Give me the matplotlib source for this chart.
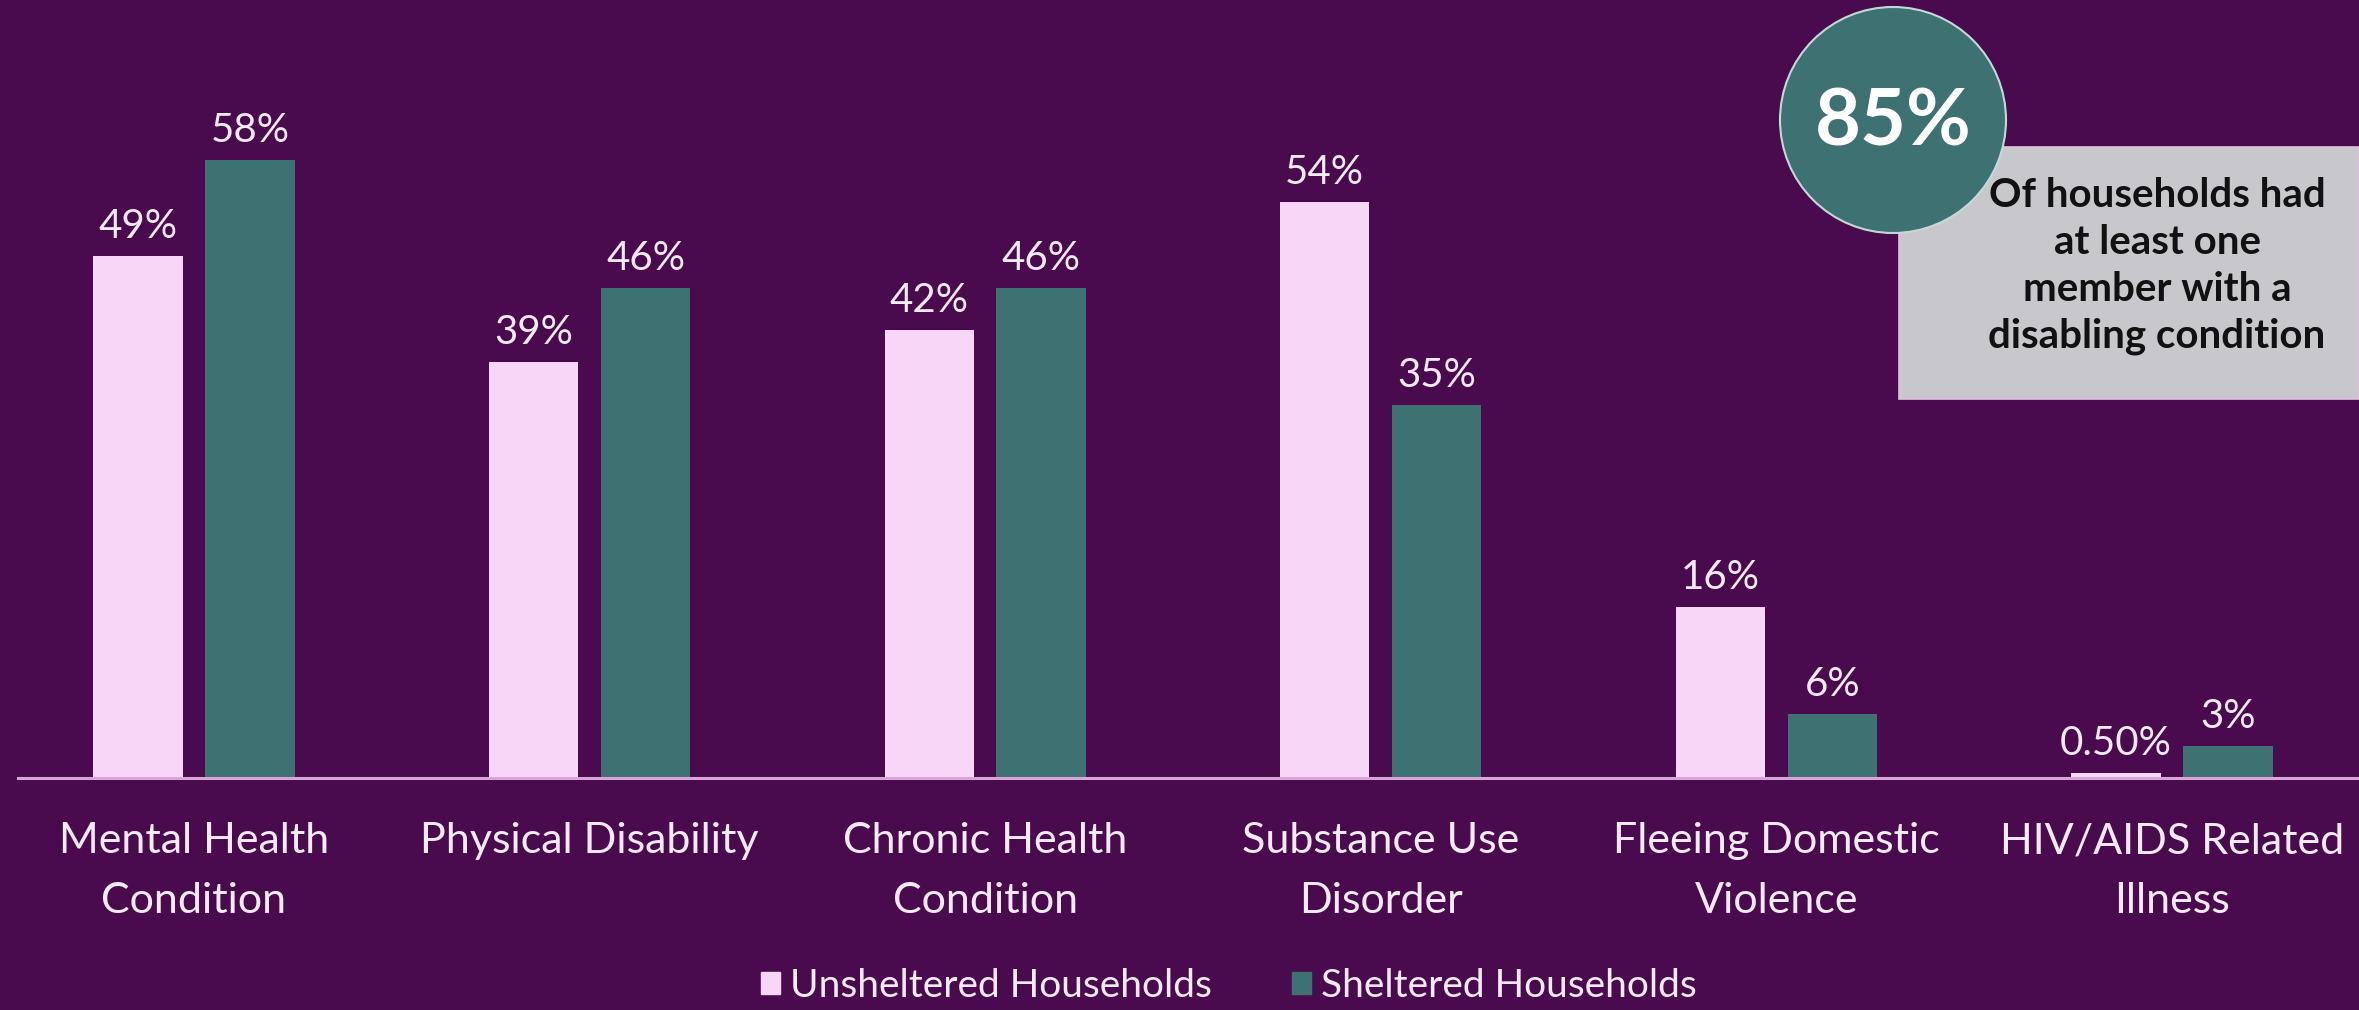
import matplotlib
matplotlib.use("Agg")
import matplotlib.pyplot as plt
import numpy as np
from matplotlib.patches import Rectangle, Circle, Patch

# Disabling conditions among households, by shelter status (%)
categories = ["Mental Health\nCondition", "Physical Disability", "Chronic Health\nCondition",
              "Substance Use\nDisorder", "Fleeing Domestic\nViolence", "HIV/AIDS Related\nIllness"]
unsheltered = [49, 39, 42, 54, 16, 0.5]
sheltered = [58, 46, 46, 35, 6, 3]
series_names = ["Unsheltered Households", "Sheltered Households"]
callout_value = "85%"
callout_text = "Of households had\nat least one\nmember with a\ndisabling condition"

BG = "#4a0a4e"
PINK = "#f7d6f7"
TEAL = "#3e7172"
AXIS_LINE = "#d6a6d8"
TEXT = "#f6eaf6"

plt.rcParams["font.family"] = ["Lato", "DejaVu Sans"]

W, H = 2359, 1010
fig = plt.figure(figsize=(W / 100, H / 100), dpi=100, facecolor=BG)
ax = fig.add_axes([18 / W, 232 / H, 1 - 18 / W, 1 - 232 / H])
ax.set_facecolor(BG)

x = np.arange(len(categories))
bw = 0.226
off = 0.1415
b1 = ax.bar(x - off, unsheltered, bw, color=PINK, label=series_names[0], zorder=2)
b2 = ax.bar(x + off, sheltered, bw, color=TEAL, label=series_names[1], zorder=2)


def fmt(v):
    return f"{v:.2f}%" if v < 1 else f"{v:.0f}%"


for bars, vals in ((b1, unsheltered), (b2, sheltered)):
    ax.bar_label(bars, labels=[fmt(v) for v in vals], padding=8,
                 fontsize=29, color=TEXT)

ax.set_xlim(-0.445, 5.473)
ax.set_ylim(0, 73.0)
ax.set_yticks([])
ax.set_xticks(x)
ax.set_xticklabels(categories, fontsize=31, color=TEXT, linespacing=1.68)
ax.tick_params(axis="x", length=0, pad=32)
for s in ("top", "left", "right"):
    ax.spines[s].set_visible(False)
ax.spines["bottom"].set_color(AXIS_LINE)
ax.spines["bottom"].set_linewidth(2.2)

leg = fig.legend(handles=[Patch(color=PINK), Patch(color=TEAL)], labels=series_names,
                 loc="center", bbox_to_anchor=(0.521, 1 - 986 / H), ncol=2,
                 frameon=False, fontsize=28, labelcolor=TEXT,
                 handlelength=0.48, handleheight=0.48, handletextpad=0.27,
                 columnspacing=2.05, borderpad=0, borderaxespad=0)

# Callout: grey box with a teal circle over its top-left corner
ov = fig.add_axes([0, 0, 1, 1], zorder=5)
ov.set_xlim(0, W)
ov.set_ylim(H, 0)
ov.axis("off")
ov.patch.set_alpha(0)
ov.add_patch(Rectangle((1899, 147), 460, 252, facecolor="#c8c8cc",
                       edgecolor="#d9c3da", linewidth=1.2))
ov.text(2157, 266, callout_text, ha="center", va="center", fontsize=29,
        fontweight="bold", color="#111111", linespacing=1.33)
ov.add_patch(Circle((1893, 120), 113, facecolor=TEAL, edgecolor="#c4d8d8",
                    linewidth=1.5))
ov.text(1893, 123, callout_value, ha="center", va="center", fontsize=57,
        fontweight="bold", color="white")

fig.savefig("out.png", dpi=100, facecolor=BG)
